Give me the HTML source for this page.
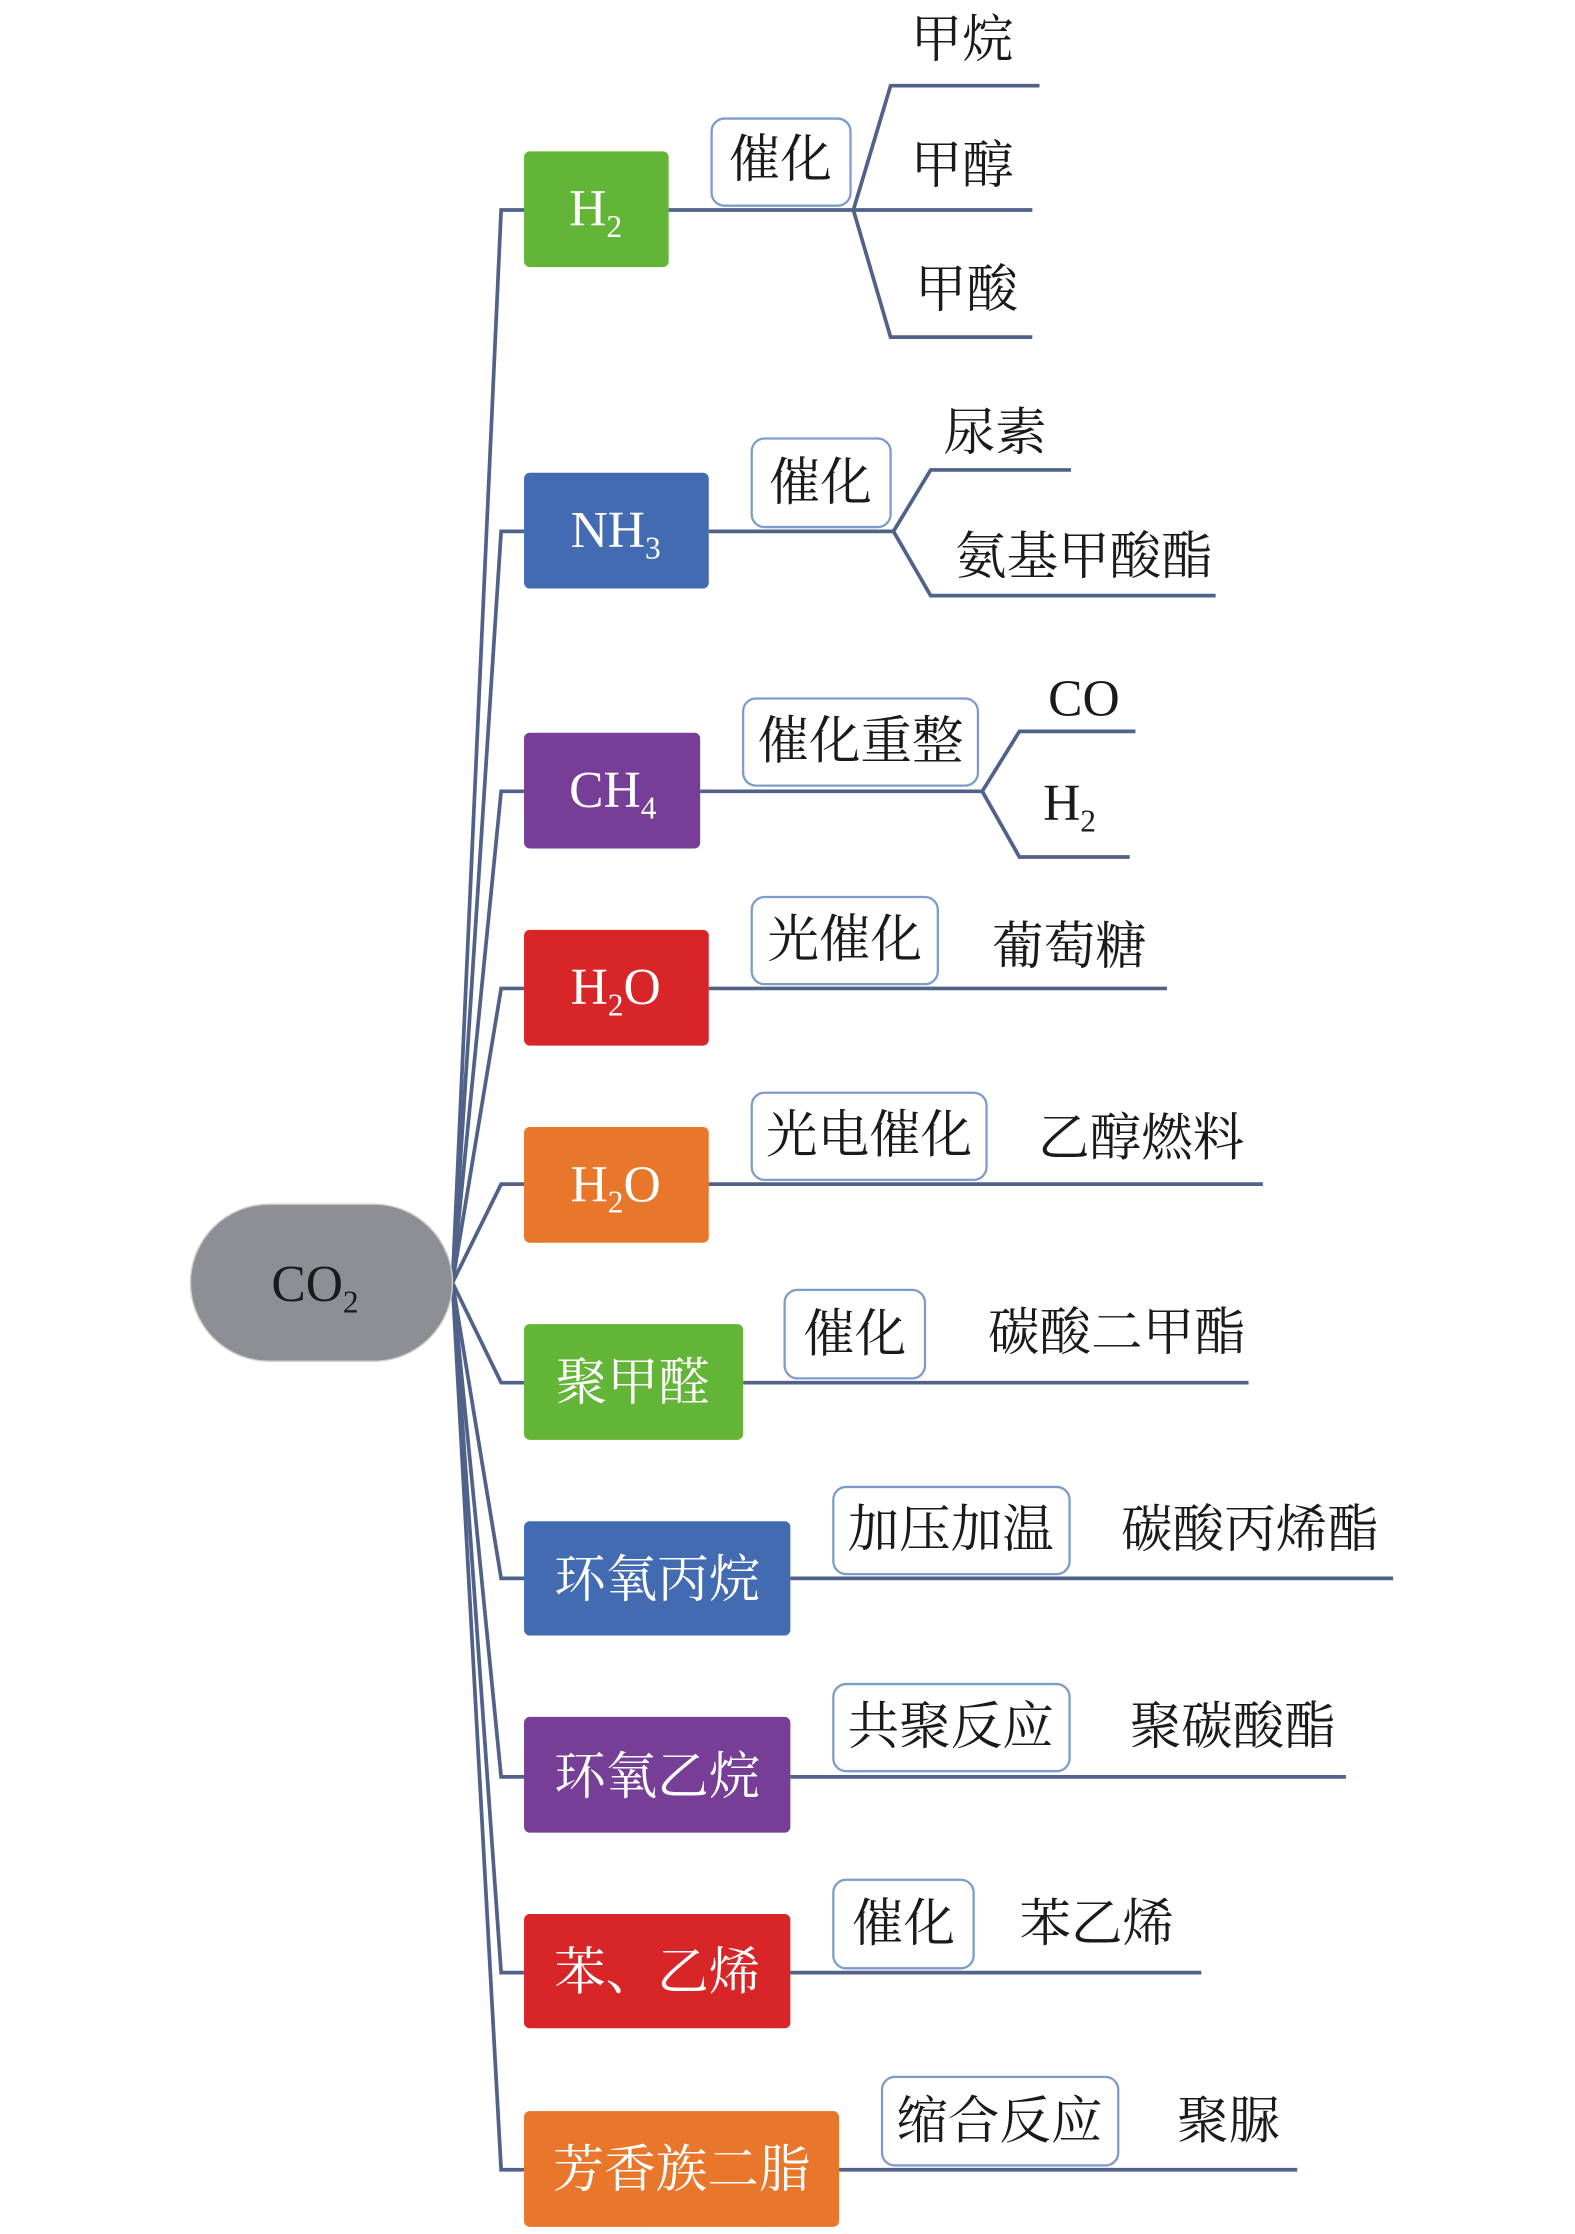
<!DOCTYPE html>
<html><head><meta charset="utf-8"><style>
html,body{margin:0;padding:0;background:#fff;}
svg{display:block;}
text{font-family:"Liberation Serif","Noto Serif CJK SC",serif;}
.n{fill:#fff;font-size:36px;text-anchor:middle;}
.t{fill:#1a1a1a;font-size:36px;text-anchor:middle;}
.l{fill:none;stroke:#50618a;stroke-width:2.6;}
.b{fill:#fff;stroke:#7d9cc9;stroke-width:1.6;}
</style></head><body>
<svg width="1575" height="2234" viewBox="0 0 1100 1564" preserveAspectRatio="none">
<!-- connectors from CO2 -->
<g class="l">
<path d="M316 898 L350 147 H366"/>
<path d="M316 898 L350 372 H366"/>
<path d="M316 898 L350 554 H366"/>
<path d="M316 898 L350 692 H366"/>
<path d="M316 898 L350 829 H366"/>
<path d="M316 898 L350 968 H366"/>
<path d="M316 898 L350 1105 H366"/>
<path d="M316 898 L350 1244 H366"/>
<path d="M316 898 L350 1381 H366"/>
<path d="M316 898 L350 1519 H366"/>
<!-- H2 -->
<path d="M467 147 H596 L622 60 H726"/>
<path d="M596 147 H721"/>
<path d="M596 147 L622 236 H721"/>
<!-- NH3 -->
<path d="M495 372 H624 L650 329 H748"/>
<path d="M624 372 L650 417 H849"/>
<!-- CH4 -->
<path d="M489 554 H686 L712 512 H793"/>
<path d="M686 554 L712 600 H789"/>
<path d="M495 692 H815"/>
<path d="M495 829 H882"/>
<path d="M519 968 H872"/>
<path d="M552 1105 H973"/>
<path d="M552 1244 H940"/>
<path d="M552 1381 H839"/>
<path d="M586 1519 H906"/>
</g>
<!-- CO2 -->
<rect x="133" y="843" width="183" height="110" rx="55" ry="55" fill="#8e8f94" stroke="#d0d0d2" stroke-width="1"/>
<text x="220" y="911" fill="#1a1a1a" style="font-size:36px" text-anchor="middle">CO<tspan dy="8" style="font-size:22px">2</tspan></text>
<!-- nodes -->
<rect x="366" y="106" width="101" height="81" rx="4" fill="#62b536"/>
<text class="n" x="416" y="158">H<tspan dy="8" style="font-size:22px">2</tspan></text>
<rect x="366" y="331" width="129" height="81" rx="4" fill="#426bb2"/>
<text class="n" x="430" y="383">NH<tspan dy="8" style="font-size:22px">3</tspan></text>
<rect x="366" y="513" width="123" height="81" rx="4" fill="#763e96"/>
<text class="n" x="428" y="565">CH<tspan dy="8" style="font-size:22px">4</tspan></text>
<rect x="366" y="651" width="129" height="81" rx="4" fill="#d72528"/>
<text class="n" x="430" y="703">H<tspan dy="8" style="font-size:22px">2</tspan><tspan dy="-8">O</tspan></text>
<rect x="366" y="789" width="129" height="81" rx="4" fill="#e8762b"/>
<text class="n" x="430" y="841">H<tspan dy="8" style="font-size:22px">2</tspan><tspan dy="-8">O</tspan></text>
<rect x="366" y="927" width="153" height="81" rx="4" fill="#62b536"/>
<text class="n" x="442" y="980">聚甲醛</text>
<rect x="366" y="1065" width="186" height="80" rx="4" fill="#426bb2"/>
<text class="n" x="459" y="1118">环氧丙烷</text>
<rect x="366" y="1202" width="186" height="81" rx="4" fill="#763e96"/>
<text class="n" x="459" y="1256">环氧乙烷</text>
<rect x="366" y="1340" width="186" height="80" rx="4" fill="#d72528"/>
<text class="n" x="459" y="1393">苯、乙烯</text>
<rect x="366" y="1478" width="220" height="81" rx="4" fill="#e8762b"/>
<text class="n" x="476" y="1531">芳香族二脂</text>
<!-- condition boxes -->
<rect class="b" x="497" y="83" width="97" height="61" rx="9"/><text class="t" x="545" y="124">催化</text>
<rect class="b" x="525" y="307" width="97" height="62" rx="9"/><text class="t" x="573" y="350">催化</text>
<rect class="b" x="519" y="489" width="164" height="61" rx="9"/><text class="t" x="601" y="531">催化重整</text>
<rect class="b" x="525" y="628" width="130" height="61" rx="9"/><text class="t" x="590" y="670">光催化</text>
<rect class="b" x="525" y="765" width="164" height="61" rx="9"/><text class="t" x="607" y="807">光电催化</text>
<rect class="b" x="548" y="903" width="98" height="62" rx="9"/><text class="t" x="597" y="946">催化</text>
<rect class="b" x="582" y="1041" width="165" height="61" rx="9"/><text class="t" x="664" y="1083">加压加温</text>
<rect class="b" x="582" y="1179" width="165" height="61" rx="9"/><text class="t" x="664" y="1221">共聚反应</text>
<rect class="b" x="582" y="1316" width="98" height="62" rx="9"/><text class="t" x="631" y="1359">催化</text>
<rect class="b" x="616" y="1454" width="165" height="62" rx="9"/><text class="t" x="698" y="1497">缩合反应</text>
<!-- products -->
<text class="t" x="672" y="40">甲烷</text>
<text class="t" x="672" y="128">甲醇</text>
<text class="t" x="675" y="215">甲酸</text>
<text class="t" x="695" y="315">尿素</text>
<text class="t" x="757" y="402">氨基甲酸酯</text>
<text class="t" x="757" y="501">CO</text>
<text class="t" x="747" y="574">H<tspan dy="8" style="font-size:22px">2</tspan></text>
<text class="t" x="747" y="675">葡萄糖</text>
<text class="t" x="797" y="809">乙醇燃料</text>
<text class="t" x="780" y="945">碳酸二甲酯</text>
<text class="t" x="873" y="1083">碳酸丙烯酯</text>
<text class="t" x="861" y="1221">聚碳酸酯</text>
<text class="t" x="766" y="1359">苯乙烯</text>
<text class="t" x="858" y="1497">聚脲</text>
</svg>
</body></html>
